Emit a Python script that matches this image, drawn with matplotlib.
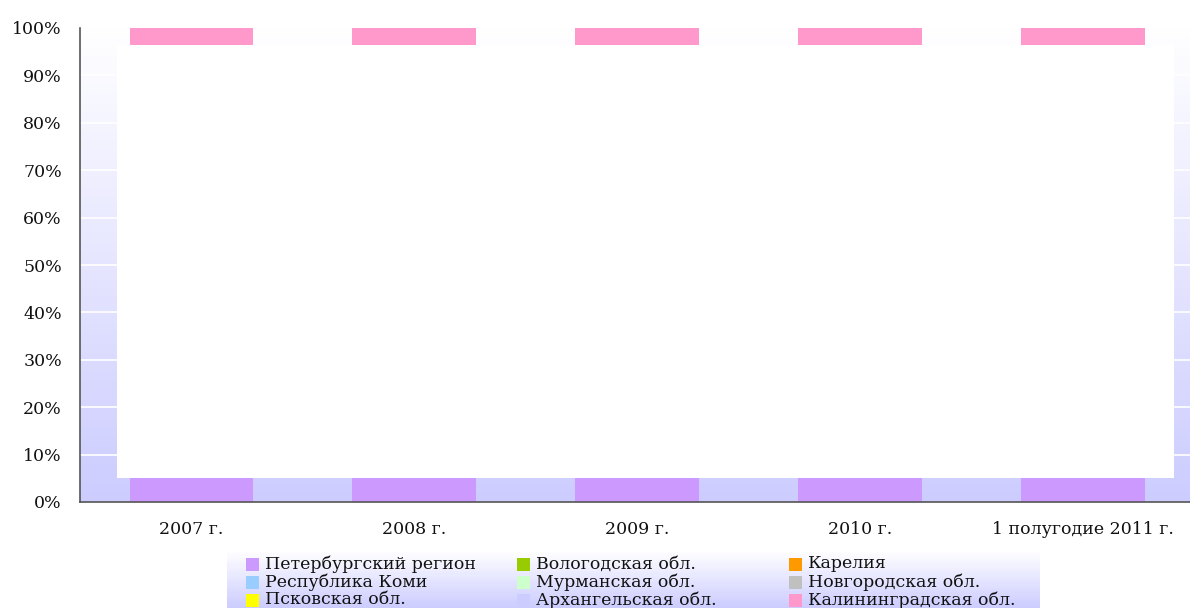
import matplotlib
matplotlib.use("Agg")
import matplotlib.pyplot as plt
import numpy as np
from matplotlib.patches import Rectangle
from matplotlib.colors import LinearSegmentedColormap

# ---- data ----
categories = ["2007 г.", "2008 г.", "2009 г.", "2010 г.", "1 полугодие 2011 г."]
series_names = ["Петербургский регион", "Вологодская обл.", "Карелия",
                "Республика Коми", "Мурманская обл.", "Новгородская обл.",
                "Псковская обл.", "Архангельская обл.", "Калининградская обл."]
series_colors = ["#cc99ff", "#99cc00", "#ff9900",
                 "#99ccff", "#ccffcc", "#c0c0c0",
                 "#ffff00", "#ccccff", "#ff99cc"]
# visible shares (%); the middle segments are hidden under a white block in the original
petersburg = [5.0, 5.0, 5.0, 5.0, 5.0]
kaliningrad = [3.6, 3.6, 3.6, 3.6, 3.6]
yticks = [0, 10, 20, 30, 40, 50, 60, 70, 80, 90, 100]
ytick_labels = [f"{v}%" for v in yticks]

FONT = "DejaVu Serif"
W, H = 1190, 608
fig = plt.figure(figsize=(W / 100, H / 100), dpi=100)
fig.patch.set_facecolor("white")

ax = fig.add_axes([80 / W, (H - 502) / H, (1190 - 80) / W, (502 - 28) / H])
x = np.arange(len(categories))
ax.set_xlim(-0.5, 4.478)
ax.set_ylim(0, 100)

# gradient background (white at top -> lavender at bottom)
grad_cmap = LinearSegmentedColormap.from_list("bg", ["#ffffff", "#ccccff"])
grad = np.linspace(0, 1, 256).reshape(-1, 1)
ax.imshow(grad, cmap=grad_cmap, aspect="auto", extent=[-0.5, 4.478, 0, 100],
          origin="upper", zorder=0)
for v in yticks[1:]:
    ax.axhline(v, color="white", lw=1.2, zorder=1)

bw = 0.556
p = np.array(petersburg)
k = np.array(kaliningrad)
ax.bar(x, p, width=bw, color=series_colors[0], zorder=2, linewidth=0)
ax.bar(x, k, bottom=100 - k, width=bw, color=series_colors[8], zorder=2, linewidth=0)

# white block covering middle of chart (as in the original)
ax.add_patch(Rectangle((-0.332, p.max()), 4.408 + 0.332, (100 - k.max()) - p.max(),
                       facecolor="white", edgecolor="none", zorder=3))

ax.set_xticks(x)
ax.set_xticklabels(categories, fontsize=12.5, family=FONT)
ax.set_yticks(yticks)
ax.set_yticklabels(ytick_labels, fontsize=12.5, family=FONT)
ax.tick_params(axis="both", length=0, colors="#111111")
ax.tick_params(axis="x", pad=14)
ax.tick_params(axis="y", pad=13)
for s in ["top", "right"]:
    ax.spines[s].set_visible(False)
for s in ["left", "bottom"]:
    ax.spines[s].set_color("#555555")
    ax.spines[s].set_linewidth(1.2)
    ax.spines[s].set_zorder(5)

# legend with gradient background
lx0, lx1, ly0, ly1 = 227, 1040, 551, 608
lax = fig.add_axes([lx0 / W, (H - ly1) / H, (lx1 - lx0) / W, (ly1 - ly0) / H])
lax.imshow(grad, cmap=grad_cmap, aspect="auto", extent=[lx0, lx1, ly1, ly0],
           origin="upper", zorder=0)
lax.set_xlim(lx0, lx1)
lax.set_ylim(ly1, ly0)
lax.axis("off")
col_x = [246, 517, 789]
row_y = [564, 582, 600]
for i, (name, col) in enumerate(zip(series_names, series_colors)):
    r, c = divmod(i, 3)
    lax.add_patch(Rectangle((col_x[c], row_y[r] - 6), 13, 13, facecolor=col,
                            edgecolor="none", zorder=2))
    lax.text(col_x[c] + 19, row_y[r], name, fontsize=12.5, family=FONT,
             va="center", ha="left", color="#111111", zorder=3)

fig.savefig("out.png", dpi=100)
